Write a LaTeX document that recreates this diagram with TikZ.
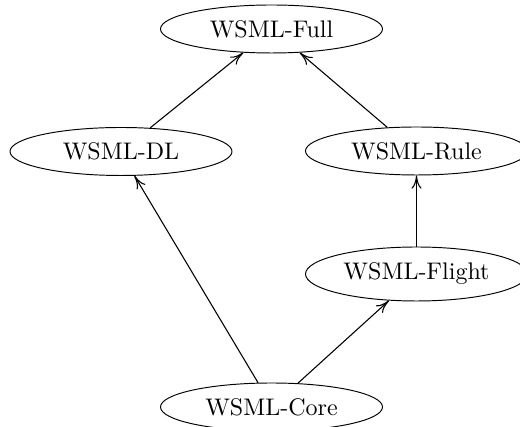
\documentclass[tikz,border=0pt]{standalone}
\usetikzlibrary{shapes.geometric, arrows.meta}
\begin{document}
\begin{tikzpicture}[x=0.41667pt,y=-0.41667pt,
  lang/.style={draw, ellipse, inner sep=0pt, minimum width=92.5pt, minimum height=20pt},
  edge/.style={-{Computer Modern Rightarrow[length=5.5pt,width=4.2pt]}, line width=0.45pt}]
\useasboundingbox (0,0) rectangle (520,427);
\node[lang] (full)   at (271.5,29)  {WSML-Full};
\node[lang] (dl)     at (121,151.5) {WSML-DL};
\node[lang] (rule)   at (416.5,151)   {WSML-Rule};
\node[lang, minimum height=22.5pt] (flight) at (416.5,274) {WSML-Flight};
\node[lang] (core)   at (271.5,407) {WSML-Core};
\draw[edge] (dl.39)     -- (full.220);
\draw[edge] (rule.141)  -- (full.320);
\draw[edge] (flight.90) -- (rule.270);
\draw[edge] (core.119)  -- (dl.299);
\draw[edge] (core.42)   -- (flight.224);
\end{tikzpicture}
\end{document}
